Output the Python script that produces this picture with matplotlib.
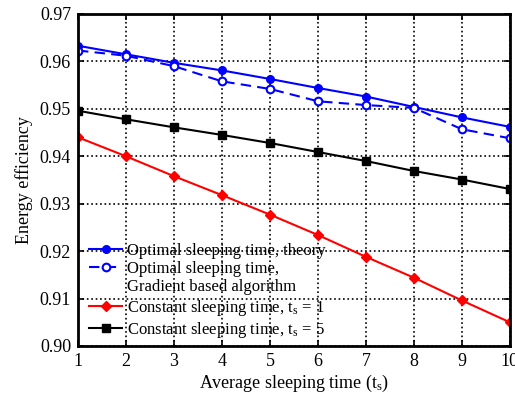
import numpy as np
import matplotlib
matplotlib.use('Agg')
import matplotlib.pyplot as plt
from matplotlib.lines import Line2D

plt.rcParams['font.family'] = ['Liberation Serif', 'DejaVu Serif']
plt.rcParams['mathtext.fontset'] = 'custom'
plt.rcParams['mathtext.rm'] = 'Liberation Serif'
plt.rcParams['mathtext.it'] = 'Liberation Serif:italic'

ts = [1, 2, 3, 4, 5, 6, 7, 8, 9, 10]
theory = [0.9633, 0.9615, 0.9597, 0.9581, 0.9563, 0.9544, 0.9526, 0.9504, 0.9482, 0.9462]
gradient = [0.9623, 0.9612, 0.9590, 0.9558, 0.9542, 0.9516, 0.9508, 0.9502, 0.9457, 0.9438]
const1 = [0.9440, 0.9400, 0.9358, 0.9318, 0.9277, 0.9234, 0.9188, 0.9144, 0.9096, 0.9050]
const5 = [0.9496, 0.9478, 0.9461, 0.9445, 0.9428, 0.9409, 0.9390, 0.9369, 0.9351, 0.9331]

fig = plt.figure(figsize=(5.15, 3.93), dpi=100)
ax = fig.add_axes([0.1515, 0.1196, 0.8385, 0.8448])

l1, = ax.plot(ts, theory, '-o', color='blue', lw=1.5, ms=5.5, mfc='blue', mec='blue')
l2, = ax.plot(ts, gradient, '--o', color='blue', lw=1.5, ms=5.5, mfc='white', mec='blue', mew=1.5,
              dashes=(5, 3))
l3, = ax.plot(ts, const1, '-D', color='red', lw=1.5, ms=5, mfc='red', mec='red')
l4, = ax.plot(ts, const5, '-s', color='black', lw=1.5, ms=6, mfc='black', mec='black')

ax.set_xlim(1, 10)
ax.set_ylim(0.90, 0.97)
ax.set_xticks(ts)
ax.set_yticks(np.arange(0.90, 0.9701, 0.01))
ax.set_yticklabels(['%.2f' % v for v in np.arange(0.90, 0.9701, 0.01)])
ax.grid(True, color='black', linestyle=':', lw=1.2)
ax.tick_params(direction='in', top=True, right=True, labelsize=13, length=4, width=1.2, pad=5)
for s in ax.spines.values():
    s.set_linewidth(2)

ax.set_xlabel('Average sleeping time (t$_\\mathrm{s}$)', fontsize=13, labelpad=2)
ax.set_ylabel('Energy efficiency', fontsize=13, labelpad=5)

blank = Line2D([], [], color='none')
ax.legend([l1, l2, blank, l3, l4],
          ['Optimal sleeping time, theory', 'Optimal sleeping time,', 'Gradient based algorithm',
           'Constant sleeping time, t$_\\mathrm{s}$ = 1', 'Constant sleeping time, t$_\\mathrm{s}$ = 5'],
          loc='lower left', bbox_to_anchor=(0.0, -0.014), frameon=False, fontsize=12,
          handlelength=2.0, handletextpad=0.3, labelspacing=0.13, borderaxespad=0.25)

fig.savefig('out.png', dpi=100)
